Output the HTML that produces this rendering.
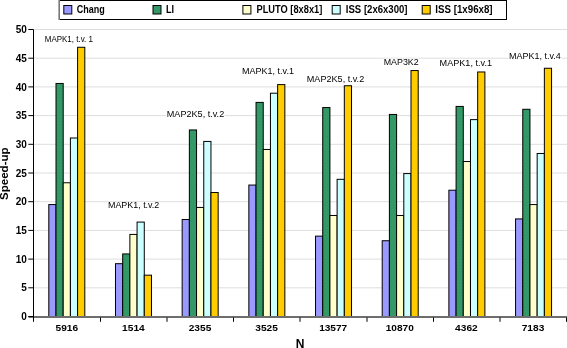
<!DOCTYPE html><html><head><meta charset="utf-8"><style>html,body{margin:0;padding:0;background:#fff;overflow:hidden}svg{display:block}text{font-family:"Liberation Sans",sans-serif;filter:grayscale(1)}</style></head><body>
<svg width="567" height="348" viewBox="0 0 567 348">
<defs><pattern id="gp" x="0" y="0" width="4" height="6" patternUnits="userSpaceOnUse"><rect width="4" height="6" fill="#339966"/><rect x="1" y="1" width="1" height="1" fill="#4d7f6e"/><rect x="3" y="4" width="1" height="1" fill="#4d7f6e"/></pattern></defs>
<rect width="567" height="348" fill="#fff"/>
<line x1="33.5" x2="567" y1="287.80" y2="287.80" stroke="#dedede" stroke-width="1"/>
<line x1="33.5" x2="567" y1="259.10" y2="259.10" stroke="#dedede" stroke-width="1"/>
<line x1="33.5" x2="567" y1="230.40" y2="230.40" stroke="#dedede" stroke-width="1"/>
<line x1="33.5" x2="567" y1="201.70" y2="201.70" stroke="#dedede" stroke-width="1"/>
<line x1="33.5" x2="567" y1="173.00" y2="173.00" stroke="#dedede" stroke-width="1"/>
<line x1="33.5" x2="567" y1="144.30" y2="144.30" stroke="#dedede" stroke-width="1"/>
<line x1="33.5" x2="567" y1="115.60" y2="115.60" stroke="#dedede" stroke-width="1"/>
<line x1="33.5" x2="567" y1="86.90" y2="86.90" stroke="#dedede" stroke-width="1"/>
<line x1="33.5" x2="567" y1="58.20" y2="58.20" stroke="#dedede" stroke-width="1"/>
<line x1="33.5" x2="567" y1="29.50" y2="29.50" stroke="#dedede" stroke-width="1"/>
<rect x="48.80" y="204.57" width="7.20" height="111.93" fill="#9999ff" stroke="#000" stroke-width="1"/>
<rect x="56.00" y="83.46" width="7.20" height="233.04" fill="url(#gp)" stroke="#000" stroke-width="1"/>
<rect x="63.20" y="182.76" width="7.20" height="133.74" fill="#ffffcc" stroke="#000" stroke-width="1"/>
<rect x="70.40" y="137.99" width="7.20" height="178.51" fill="#ccffff" stroke="#000" stroke-width="1"/>
<rect x="77.60" y="47.29" width="7.20" height="269.21" fill="#ffcc00" stroke="#000" stroke-width="1"/>
<rect x="115.48" y="263.69" width="7.20" height="52.81" fill="#9999ff" stroke="#000" stroke-width="1"/>
<rect x="122.68" y="253.93" width="7.20" height="62.57" fill="url(#gp)" stroke="#000" stroke-width="1"/>
<rect x="129.88" y="234.42" width="7.20" height="82.08" fill="#ffffcc" stroke="#000" stroke-width="1"/>
<rect x="137.08" y="222.08" width="7.20" height="94.42" fill="#ccffff" stroke="#000" stroke-width="1"/>
<rect x="144.28" y="275.17" width="7.20" height="41.33" fill="#ffcc00" stroke="#000" stroke-width="1"/>
<rect x="182.16" y="219.49" width="7.20" height="97.01" fill="#9999ff" stroke="#000" stroke-width="1"/>
<rect x="189.36" y="129.95" width="7.20" height="186.55" fill="url(#gp)" stroke="#000" stroke-width="1"/>
<rect x="196.56" y="207.44" width="7.20" height="109.06" fill="#ffffcc" stroke="#000" stroke-width="1"/>
<rect x="203.76" y="141.43" width="7.20" height="175.07" fill="#ccffff" stroke="#000" stroke-width="1"/>
<rect x="210.96" y="192.52" width="7.20" height="123.98" fill="#ffcc00" stroke="#000" stroke-width="1"/>
<rect x="248.84" y="185.05" width="7.20" height="131.45" fill="#9999ff" stroke="#000" stroke-width="1"/>
<rect x="256.04" y="102.40" width="7.20" height="214.10" fill="url(#gp)" stroke="#000" stroke-width="1"/>
<rect x="263.24" y="149.47" width="7.20" height="167.03" fill="#ffffcc" stroke="#000" stroke-width="1"/>
<rect x="270.44" y="93.21" width="7.20" height="223.29" fill="#ccffff" stroke="#000" stroke-width="1"/>
<rect x="277.64" y="84.60" width="7.20" height="231.90" fill="#ffcc00" stroke="#000" stroke-width="1"/>
<rect x="315.52" y="236.14" width="7.20" height="80.36" fill="#9999ff" stroke="#000" stroke-width="1"/>
<rect x="322.72" y="107.56" width="7.20" height="208.94" fill="url(#gp)" stroke="#000" stroke-width="1"/>
<rect x="329.92" y="215.48" width="7.20" height="101.02" fill="#ffffcc" stroke="#000" stroke-width="1"/>
<rect x="337.12" y="179.31" width="7.20" height="137.19" fill="#ccffff" stroke="#000" stroke-width="1"/>
<rect x="344.32" y="85.75" width="7.20" height="230.75" fill="#ffcc00" stroke="#000" stroke-width="1"/>
<rect x="382.20" y="240.73" width="7.20" height="75.77" fill="#9999ff" stroke="#000" stroke-width="1"/>
<rect x="389.40" y="114.45" width="7.20" height="202.05" fill="url(#gp)" stroke="#000" stroke-width="1"/>
<rect x="396.60" y="215.48" width="7.20" height="101.02" fill="#ffffcc" stroke="#000" stroke-width="1"/>
<rect x="403.80" y="173.57" width="7.20" height="142.93" fill="#ccffff" stroke="#000" stroke-width="1"/>
<rect x="411.00" y="70.54" width="7.20" height="245.96" fill="#ffcc00" stroke="#000" stroke-width="1"/>
<rect x="448.88" y="190.22" width="7.20" height="126.28" fill="#9999ff" stroke="#000" stroke-width="1"/>
<rect x="456.08" y="106.42" width="7.20" height="210.08" fill="url(#gp)" stroke="#000" stroke-width="1"/>
<rect x="463.28" y="161.52" width="7.20" height="154.98" fill="#ffffcc" stroke="#000" stroke-width="1"/>
<rect x="470.48" y="119.62" width="7.20" height="196.88" fill="#ccffff" stroke="#000" stroke-width="1"/>
<rect x="477.68" y="71.98" width="7.20" height="244.52" fill="#ffcc00" stroke="#000" stroke-width="1"/>
<rect x="515.56" y="218.92" width="7.20" height="97.58" fill="#9999ff" stroke="#000" stroke-width="1"/>
<rect x="522.76" y="109.29" width="7.20" height="207.21" fill="url(#gp)" stroke="#000" stroke-width="1"/>
<rect x="529.96" y="204.57" width="7.20" height="111.93" fill="#ffffcc" stroke="#000" stroke-width="1"/>
<rect x="537.16" y="153.48" width="7.20" height="163.02" fill="#ccffff" stroke="#000" stroke-width="1"/>
<rect x="544.36" y="68.25" width="7.20" height="248.25" fill="#ffcc00" stroke="#000" stroke-width="1"/>
<line x1="28.5" x2="567" y1="316.9" y2="316.9" stroke="#6e6e6e" stroke-width="2"/>
<line x1="33.5" x2="33.5" y1="29.5" y2="321.8" stroke="#000" stroke-width="1"/>
<line x1="28.3" x2="33.5" y1="316.50" y2="316.50" stroke="#000" stroke-width="1"/>
<text x="26.8" y="320.10" font-size="10" font-weight="bold" text-anchor="end">0</text>
<line x1="28.3" x2="33.5" y1="287.80" y2="287.80" stroke="#000" stroke-width="1"/>
<text x="26.8" y="291.40" font-size="10" font-weight="bold" text-anchor="end">5</text>
<line x1="28.3" x2="33.5" y1="259.10" y2="259.10" stroke="#000" stroke-width="1"/>
<text x="26.8" y="262.70" font-size="10" font-weight="bold" text-anchor="end">10</text>
<line x1="28.3" x2="33.5" y1="230.40" y2="230.40" stroke="#000" stroke-width="1"/>
<text x="26.8" y="234.00" font-size="10" font-weight="bold" text-anchor="end">15</text>
<line x1="28.3" x2="33.5" y1="201.70" y2="201.70" stroke="#000" stroke-width="1"/>
<text x="26.8" y="205.30" font-size="10" font-weight="bold" text-anchor="end">20</text>
<line x1="28.3" x2="33.5" y1="173.00" y2="173.00" stroke="#000" stroke-width="1"/>
<text x="26.8" y="176.60" font-size="10" font-weight="bold" text-anchor="end">25</text>
<line x1="28.3" x2="33.5" y1="144.30" y2="144.30" stroke="#000" stroke-width="1"/>
<text x="26.8" y="147.90" font-size="10" font-weight="bold" text-anchor="end">30</text>
<line x1="28.3" x2="33.5" y1="115.60" y2="115.60" stroke="#000" stroke-width="1"/>
<text x="26.8" y="119.20" font-size="10" font-weight="bold" text-anchor="end">35</text>
<line x1="28.3" x2="33.5" y1="86.90" y2="86.90" stroke="#000" stroke-width="1"/>
<text x="26.8" y="90.50" font-size="10" font-weight="bold" text-anchor="end">40</text>
<line x1="28.3" x2="33.5" y1="58.20" y2="58.20" stroke="#000" stroke-width="1"/>
<text x="26.8" y="61.80" font-size="10" font-weight="bold" text-anchor="end">45</text>
<line x1="28.3" x2="33.5" y1="29.50" y2="29.50" stroke="#000" stroke-width="1"/>
<text x="26.8" y="33.10" font-size="10" font-weight="bold" text-anchor="end">50</text>
<line x1="100.50" x2="100.50" y1="317.5" y2="321.8" stroke="#000" stroke-width="1"/>
<line x1="167.00" x2="167.00" y1="317.5" y2="321.8" stroke="#000" stroke-width="1"/>
<line x1="233.50" x2="233.50" y1="317.5" y2="321.8" stroke="#000" stroke-width="1"/>
<line x1="300.00" x2="300.00" y1="317.5" y2="321.8" stroke="#000" stroke-width="1"/>
<line x1="367.00" x2="367.00" y1="317.5" y2="321.8" stroke="#000" stroke-width="1"/>
<line x1="433.50" x2="433.50" y1="317.5" y2="321.8" stroke="#000" stroke-width="1"/>
<line x1="500.00" x2="500.00" y1="317.5" y2="321.8" stroke="#000" stroke-width="1"/>
<line x1="566.50" x2="566.50" y1="317.5" y2="321.8" stroke="#000" stroke-width="1"/>
<text x="66.80" y="331.3" font-size="9.7" font-weight="bold" text-anchor="middle" textLength="22.6" lengthAdjust="spacingAndGlyphs">5916</text>
<text x="133.40" y="331.3" font-size="9.7" font-weight="bold" text-anchor="middle" textLength="22.6" lengthAdjust="spacingAndGlyphs">1514</text>
<text x="200.00" y="331.3" font-size="9.7" font-weight="bold" text-anchor="middle" textLength="22.6" lengthAdjust="spacingAndGlyphs">2355</text>
<text x="266.60" y="331.3" font-size="9.7" font-weight="bold" text-anchor="middle" textLength="22.6" lengthAdjust="spacingAndGlyphs">3525</text>
<text x="333.20" y="331.3" font-size="9.7" font-weight="bold" text-anchor="middle" textLength="28.1" lengthAdjust="spacingAndGlyphs">13577</text>
<text x="399.80" y="331.3" font-size="9.7" font-weight="bold" text-anchor="middle" textLength="28.1" lengthAdjust="spacingAndGlyphs">10870</text>
<text x="466.40" y="331.3" font-size="9.7" font-weight="bold" text-anchor="middle" textLength="22.6" lengthAdjust="spacingAndGlyphs">4362</text>
<text x="533.00" y="331.3" font-size="9.7" font-weight="bold" text-anchor="middle" textLength="22.6" lengthAdjust="spacingAndGlyphs">7183</text>
<text x="300.2" y="347.8" font-size="12" font-weight="bold" text-anchor="middle">N</text>
<text transform="translate(7.8,173.7) rotate(-90)" font-size="10" font-weight="bold" text-anchor="middle" textLength="52.4" lengthAdjust="spacingAndGlyphs">Speed-up</text>
<rect x="44.2" y="35.8" width="49.3" height="7.6" fill="#fff"/>
<text x="44.8" y="41.9" font-size="8.9" textLength="48.1" lengthAdjust="spacingAndGlyphs" fill="#000">MAPK1, t.v. 1</text>
<rect x="107.4" y="202.2" width="52.5" height="7.6" fill="#fff"/>
<text x="108.0" y="208.3" font-size="8.9" textLength="51.3" lengthAdjust="spacingAndGlyphs" fill="#000">MAPK1, t.v.2</text>
<rect x="166.2" y="111.1" width="58.6" height="7.6" fill="#fff"/>
<text x="166.8" y="117.2" font-size="8.9" textLength="57.4" lengthAdjust="spacingAndGlyphs" fill="#000">MAP2K5, t.v.2</text>
<rect x="241.4" y="67.9" width="53.1" height="7.6" fill="#fff"/>
<text x="242.0" y="74.0" font-size="8.9" textLength="51.9" lengthAdjust="spacingAndGlyphs" fill="#000">MAPK1, t.v.1</text>
<rect x="306.2" y="75.8" width="58.6" height="7.6" fill="#fff"/>
<text x="306.8" y="81.9" font-size="8.9" textLength="57.4" lengthAdjust="spacingAndGlyphs" fill="#000">MAP2K5, t.v.2</text>
<rect x="383.1" y="58.7" width="36.2" height="7.6" fill="#fff"/>
<text x="383.7" y="64.8" font-size="8.9" textLength="35.0" lengthAdjust="spacingAndGlyphs" fill="#000">MAP3K2</text>
<rect x="439.0" y="59.4" width="53.6" height="7.6" fill="#fff"/>
<text x="439.6" y="65.5" font-size="8.9" textLength="52.4" lengthAdjust="spacingAndGlyphs" fill="#000">MAPK1, t.v.1</text>
<rect x="508.4" y="52.4" width="53.0" height="7.6" fill="#fff"/>
<text x="509.0" y="58.5" font-size="8.9" textLength="51.8" lengthAdjust="spacingAndGlyphs" fill="#000">MAPK1, t.v.4</text>
<rect x="59.5" y="0.5" width="447" height="19" fill="#fff" stroke="#000" stroke-width="1"/>
<line x1="59.2" x2="59.2" y1="0" y2="20" stroke="#777" stroke-width="1.6"/>
<rect x="63.8" y="5.5" width="8" height="8.5" fill="#9999ff" stroke="#000" stroke-width="1"/>
<text x="76.7" y="12.7" font-size="10.3" font-weight="bold" textLength="28.0" lengthAdjust="spacingAndGlyphs">Chang</text>
<rect x="153.0" y="5.5" width="8" height="8.5" fill="url(#gp)" stroke="#000" stroke-width="1"/>
<text x="165.9" y="12.7" font-size="10.3" font-weight="bold" textLength="8.1" lengthAdjust="spacingAndGlyphs">LI</text>
<rect x="242.9" y="5.5" width="8" height="8.5" fill="#ffffcc" stroke="#000" stroke-width="1"/>
<text x="256.5" y="12.7" font-size="10.3" font-weight="bold" textLength="65.8" lengthAdjust="spacingAndGlyphs">PLUTO [8x8x1]</text>
<rect x="332.2" y="5.5" width="8" height="8.5" fill="#ccffff" stroke="#000" stroke-width="1"/>
<text x="345.8" y="12.7" font-size="10.3" font-weight="bold" textLength="61.7" lengthAdjust="spacingAndGlyphs">ISS [2x6x300]</text>
<rect x="422.2" y="5.5" width="8" height="8.5" fill="#ffcc00" stroke="#000" stroke-width="1"/>
<text x="435.3" y="12.7" font-size="10.3" font-weight="bold" textLength="57.3" lengthAdjust="spacingAndGlyphs">ISS [1x96x8]</text>
</svg></body></html>
